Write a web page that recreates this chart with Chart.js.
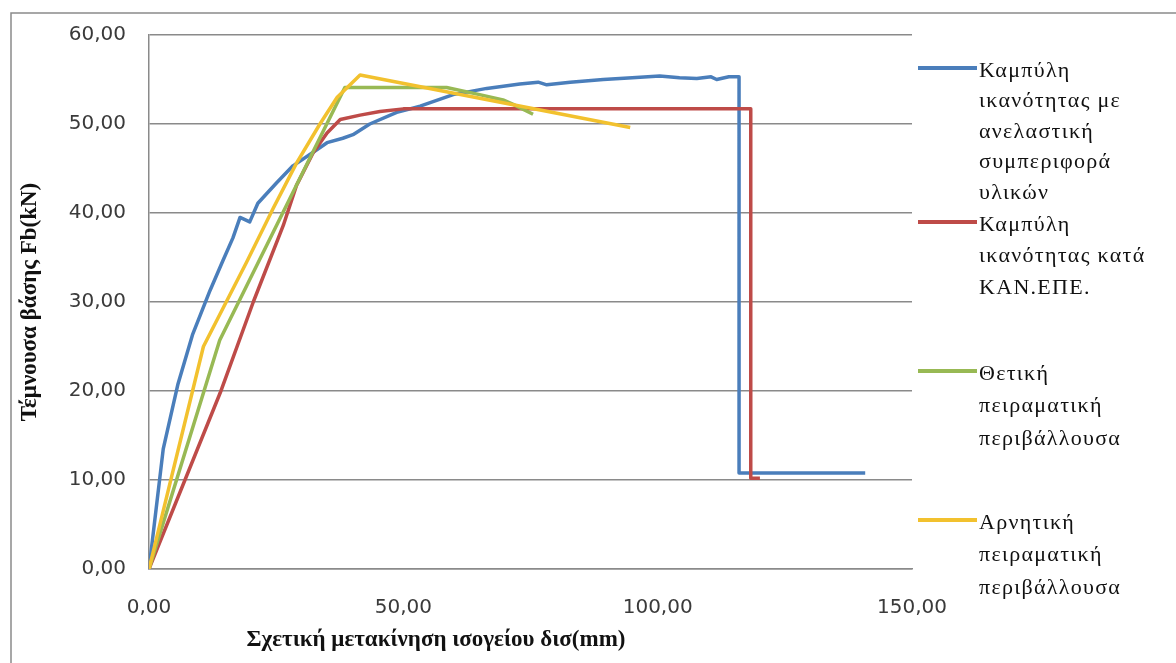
<!DOCTYPE html>
<html>
<head>
<meta charset="utf-8">
<script src="https://cdn.jsdelivr.net/npm/chart.js@4.4.1/dist/chart.umd.min.js"></script>
<style>
  html, body { margin: 0; padding: 0; background: #ffffff; }
  canvas { display: block; }
</style>
</head>
<body>
<canvas id="chart" width="1176" height="663"></canvas>
<script>
// Capacity curves: relative ground-floor displacement (mm) against base shear Fb (kN)

// Capacity curve with inelastic material behaviour
const inelasticX = [0, 2.8, 5.7, 8.6, 12.0, 14.5, 16.5, 17.9, 19.8, 21.4, 25.1, 28.3, 32.2, 35.0, 38.1, 40.1, 43.4, 48.7, 53.3, 59.8, 66.4, 72.9, 76.5, 78.2, 82.8, 89.3, 95.0, 100.4, 104.3, 107.7, 110.5, 111.6, 114.0, 116.0, 116.0, 140.8];
const inelasticY = [0, 13.5, 20.8, 26.4, 31.3, 34.6, 37.2, 39.5, 39.0, 41.1, 43.4, 45.3, 46.8, 47.9, 48.4, 48.8, 50.0, 51.3, 52.0, 53.3, 54.0, 54.5, 54.7, 54.4, 54.7, 55.0, 55.2, 55.4, 55.2, 55.1, 55.3, 55.0, 55.3, 55.3, 10.8, 10.8];

// Capacity curve according to KAN.EPE.
const kanepeX = [0, 14.0, 20.5, 26.4, 29.0, 32.3, 35.0, 37.6, 41.5, 45.4, 50.0, 118.3, 118.3, 120.1];
const kanepeY = [0, 19.8, 30.0, 38.6, 43.1, 46.8, 49.0, 50.5, 51.0, 51.4, 51.7, 51.7, 10.2, 10.2];

// Positive experimental envelope
const positiveX = [0, 13.9, 38.5, 58.5, 65.0, 69.6, 71.6, 75.5];
const positiveY = [0, 25.7, 54.1, 54.1, 53.3, 52.7, 52.2, 51.1];

// Negative experimental envelope
const negativeX = [0, 10.7, 19.2, 24.4, 29.0, 33.6, 37.0, 41.5, 94.6];
const negativeY = [0, 25.0, 34.5, 40.5, 45.6, 50.0, 53.0, 55.5, 49.6];

const seriesLabels = [
  ['Καμπύλη', 'ικανότητας με', 'ανελαστική', 'συμπεριφορά', 'υλικών'],
  ['Καμπύλη', 'ικανότητας κατά', 'ΚΑΝ.ΕΠΕ.'],
  ['Θετική', 'πειραματική', 'περιβάλλουσα'],
  ['Αρνητική', 'πειραματική', 'περιβάλλουσα']
];

const xTickValues = [0, 50, 100, 150];
const yTickValues = [0, 10, 20, 30, 40, 50, 60];

const xAxisTitle = 'Σχετική μετακίνηση ισογείου δισ(mm)';
const yAxisTitle = 'Τέμνουσα βάσης Fb(kN)';

const toPoints = (xs, ys) => xs.map((x, i) => ({ x: x, y: ys[i] }));
const fmt = v => Number(v).toFixed(2).replace('.', ',');

const GRID = '#8a8a8a';
const TICK_FONT = { family: '"DejaVu Sans", sans-serif', size: 20 };

// Outer frame around the whole chart
const framePlugin = {
  id: 'frame',
  beforeDraw(chart) {
    const ctx = chart.ctx;
    ctx.save();
    ctx.fillStyle = '#ffffff';
    ctx.fillRect(0, 0, chart.width, chart.height);
    ctx.strokeStyle = GRID;
    ctx.lineWidth = 1.5;
    ctx.strokeRect(11, 13, chart.width + 20, chart.height + 20);
    ctx.restore();
  }
};

// Multi-line legend on the right and the horizontal axis title
const sideLegendPlugin = {
  id: 'sideLegend',
  afterDraw(chart, args, opts) {
    const ctx = chart.ctx;
    ctx.save();
    chart.data.datasets.forEach((ds, i) => {
      const y = opts.rows[i];
      const lh = opts.lineHeights[i];
      ctx.strokeStyle = ds.borderColor;
      ctx.lineWidth = 4;
      ctx.lineCap = 'butt';
      ctx.beginPath();
      ctx.moveTo(opts.lineStart, y);
      ctx.lineTo(opts.lineEnd, y);
      ctx.stroke();
      ctx.fillStyle = '#111111';
      ctx.font = opts.font;
      if ('letterSpacing' in ctx) ctx.letterSpacing = opts.letterSpacing;
      ctx.textAlign = 'left';
      ctx.textBaseline = 'middle';
      ds.labelLines.forEach((line, k) => {
        ctx.fillText(line, opts.textStart, y + 3 + k * lh);
      });
    });
    if ('letterSpacing' in ctx) ctx.letterSpacing = '0px';
    ctx.fillStyle = '#111111';
    ctx.font = opts.titleFont;
    ctx.textAlign = 'center';
    ctx.textBaseline = 'middle';
    ctx.fillText(xAxisTitle, opts.titleX, opts.titleY);
    ctx.restore();
  }
};

const colors = ['#4a7ebb', '#be4b48', '#98b954', '#f2c12e'];
const xsList = [inelasticX, kanepeX, positiveX, negativeX];
const ysList = [inelasticY, kanepeY, positiveY, negativeY];

const datasets = xsList.map((xs, i) => ({
  label: seriesLabels[i].join(' '),
  labelLines: seriesLabels[i],
  data: toPoints(xs, ysList[i]),
  borderColor: colors[i],
  backgroundColor: colors[i],
  borderWidth: 3.5,
  pointRadius: 0,
  pointHoverRadius: 0,
  showLine: true,
  tension: 0,
  borderJoinStyle: 'round',
  borderCapStyle: 'butt',
  order: 4 - i
}));

new Chart(document.getElementById('chart'), {
  type: 'scatter',
  data: { datasets: datasets },
  options: {
    responsive: false,
    animation: false,
    devicePixelRatio: 1,
    layout: { padding: { top: 27, right: 264, bottom: 0, left: 0 } },
    plugins: {
      legend: { display: false },
      tooltip: { enabled: false },
      sideLegend: {
        rows: [68, 222, 371, 520],
        lineHeights: [30.5, 31.5, 32.5, 32.5],
        lineStart: 918,
        lineEnd: 977,
        textStart: 979,
        font: '22px "Liberation Serif", serif',
        letterSpacing: '1.3px',
        titleFont: 'bold 23px "Liberation Serif", serif',
        titleX: 436,
        titleY: 640
      }
    },
    scales: {
      x: {
        type: 'linear',
        min: 0,
        max: 150,
        afterBuildTicks: s => { s.ticks = xTickValues.map(v => ({ value: v })); },
        afterFit: s => { s.height = 94; },
        grid: { display: false, drawTicks: false },
        border: { display: true, color: GRID, width: 1.5 },
        ticks: { padding: 27, color: '#3a3a3a', font: TICK_FONT, callback: fmt, maxRotation: 0 }
      },
      y: {
        type: 'linear',
        min: 0,
        max: 60,
        afterBuildTicks: s => { s.ticks = yTickValues.map(v => ({ value: v })); },
        afterFit: s => { s.width = 149; },
        grid: { color: GRID, lineWidth: 1.5, drawTicks: false },
        border: { display: true, color: GRID, width: 1.5 },
        ticks: { padding: 23, color: '#3a3a3a', font: TICK_FONT, callback: fmt },
        title: {
          display: true,
          text: yAxisTitle,
          color: '#111111',
          font: { family: '"Liberation Serif", serif', size: 23, weight: 'bold' },
          padding: { top: 16, bottom: 0 }
        }
      }
    }
  },
  plugins: [framePlugin, sideLegendPlugin]
});
</script>
</body>
</html>
